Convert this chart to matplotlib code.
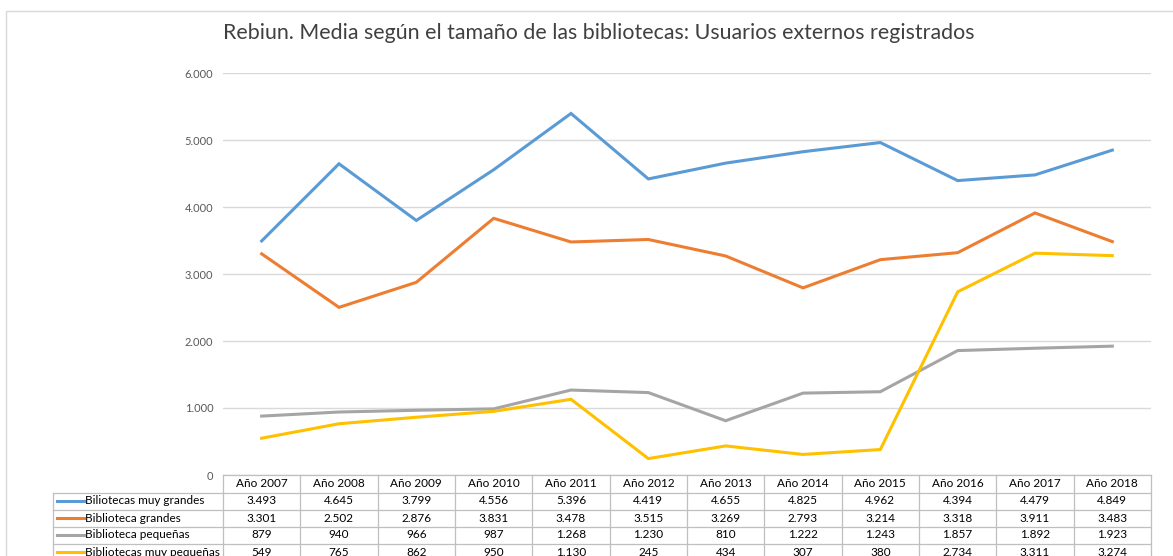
import matplotlib.pyplot as plt
from matplotlib.patches import Rectangle
from matplotlib.lines import Line2D

years = ["Año 2007", "Año 2008", "Año 2009", "Año 2010", "Año 2011", "Año 2012",
         "Año 2013", "Año 2014", "Año 2015", "Año 2016", "Año 2017", "Año 2018"]
muy_grandes = [3493, 4645, 3799, 4556, 5396, 4419, 4655, 4825, 4962, 4394, 4479, 4849]
grandes = [3301, 2502, 2876, 3831, 3478, 3515, 3269, 2793, 3214, 3318, 3911, 3483]
pequenas = [879, 940, 966, 987, 1268, 1230, 810, 1222, 1243, 1857, 1892, 1923]
muy_pequenas = [549, 765, 862, 950, 1130, 245, 434, 307, 380, 2734, 3311, 3274]

series_names = ["Biliotecas muy grandes", "Biblioteca grandes",
                "Biblioteca pequeñas", "Bibliotecas muy pequeñas"]
series_values = [muy_grandes, grandes, pequenas, muy_pequenas]
colors = ["#5B9BD5", "#ED7D31", "#A5A5A5", "#FFC000"]

W, H = 1173, 556
plt.rcParams['font.family'] = ['Lato', 'DejaVu Sans']
fig = plt.figure(figsize=(W / 100, H / 100), dpi=100)

# marco exterior del gráfico
fig.patches.append(Rectangle((6 / W, -0.1), 1.2, 1 - 11 / H + 0.1, transform=fig.transFigure,
                             fill=False, edgecolor="#D9D9D9", linewidth=1))

left, right, top, bottom = 223, 1151, 73, 475
ax = fig.add_axes([left / W, 1 - bottom / H, (right - left) / W, (bottom - top) / H])

x = list(range(len(years)))
for vals, c, name in zip(series_values, colors, series_names):
    ax.plot(x, vals, color=c, linewidth=2.2, label=name, solid_joinstyle="miter")

ax.set_xlim(-0.5, len(years) - 0.5)
ax.set_ylim(0, 6000)
ax.set_yticks(range(0, 6001, 1000))
ax.set_yticklabels(["0" if v == 0 else f"{v // 1000}.000" for v in range(0, 6001, 1000)],
                   color="#595959", fontsize=8)
ax.set_xticks([])
ax.tick_params(axis="y", length=0, pad=7)
ax.grid(axis="y", color="#D9D9D9", linewidth=1)
ax.set_axisbelow(True)
for s in ax.spines.values():
    s.set_visible(False)

fig.text(599 / W, 1 - 33 / H,
         "Rebiun. Media según el tamaño de las bibliotecas: Usuarios externos registrados",
         ha="center", va="center", fontsize=15.4, color="#404040")

# tabla de datos
col_w = (right - left) / len(years)
label_left = 53
row_tops = [475, 492.5, 509.5, 526.5, 543.5, 560.5]
line_c = "#BFBFBF"

def fx(px):
    return px / W

def fy(py):
    return 1 - py / H

def hline(y, x0, x1):
    fig.add_artist(Line2D([fx(x0), fx(x1)], [fy(y), fy(y)], color=line_c, linewidth=0.9))

def vline(xp, y0, y1):
    fig.add_artist(Line2D([fx(xp), fx(xp)], [fy(y0), fy(y1)], color=line_c, linewidth=0.9))

hline(row_tops[0], left, right)
for y in row_tops[1:]:
    hline(y, label_left, right)
vline(label_left, row_tops[1], row_tops[-1])
for i in range(len(years) + 1):
    vline(left + i * col_w, row_tops[0], row_tops[-1])

for i, yr in enumerate(years):
    cx = left + (i + 0.5) * col_w
    fig.text(fx(cx), fy((row_tops[0] + row_tops[1]) / 2), yr, ha="center", va="center",
             fontsize=8.5, color="#000000")

for r, (name, vals, c) in enumerate(zip(series_names, series_values, colors)):
    cy = (row_tops[r + 1] + row_tops[r + 2]) / 2
    fig.add_artist(Line2D([fx(57), fx(84)], [fy(cy), fy(cy)], color=c, linewidth=2.2))
    fig.text(fx(85), fy(cy), name, ha="left", va="center", fontsize=8.5, color="#000000")
    for i, v in enumerate(vals):
        cx = left + (i + 0.5) * col_w
        txt = f"{v:,}".replace(",", ".")
        fig.text(fx(cx), fy(cy), txt, ha="center", va="center", fontsize=8.5, color="#000000")

fig.savefig("out.png", dpi=100)
